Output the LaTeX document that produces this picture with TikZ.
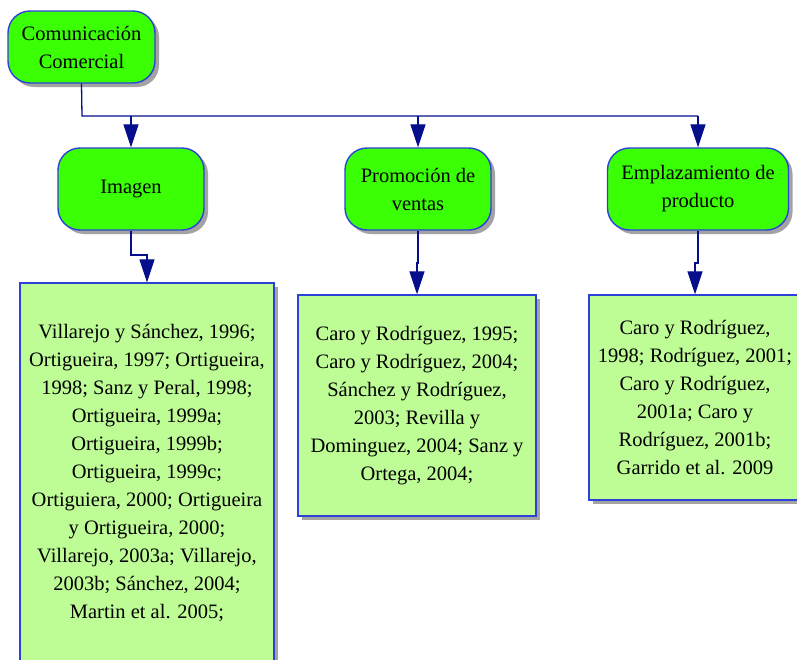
\documentclass[tikz,border=0pt]{standalone}
\usepackage{fontspec}
\setmainfont{Liberation Serif}
\usetikzlibrary{arrows.meta,shadows}
\definecolor{nodegreen}{RGB}{58,255,5}
\definecolor{boxgreen}{RGB}{190,252,150}
\definecolor{edgeblue}{RGB}{45,65,215}
\definecolor{navy}{RGB}{5,15,140}
\tikzset{
  base/.style={draw=edgeblue,line width=1.4pt,align=center,inner sep=0pt,
    font=\fontsize{20.5}{28}\selectfont,
    drop shadow={shadow xshift=4pt,shadow yshift=-4pt,fill=gray!85,opacity=0.85}},
  topic/.style={base,fill=nodegreen,rounded corners=22pt},
  refbox/.style={base,fill=boxgreen},
  conn/.style={draw=navy,line width=1.3pt},
  arr/.style={conn,-{Triangle[length=23pt,width=15pt]}}
}
\begin{document}
\begin{tikzpicture}[x=1pt,y=-1pt]
\useasboundingbox (0,0) rectangle (797,659);
\clip (0,0) rectangle (797,659);
\fill[white] (0,0) rectangle (797,659);
% nodes
\node[topic,minimum width=147pt,minimum height=72pt] (top) at (81.5,47) {Comunicación\\Comercial};
\node[topic,minimum width=146pt,minimum height=82pt] (imagen) at (131,189) {\raisebox{-3pt}{Imagen}};
\node[topic,minimum width=146pt,minimum height=82pt] (promo) at (418,189) {Promoción de\\ventas};
\node[topic,minimum width=181pt,minimum height=82pt] (empl) at (698,189) {Emplazamiento de\\producto};
\node[refbox,minimum width=254pt,minimum height=379pt] (b1) at (147,472.5)
  {Villarejo y Sánchez, 1996;\\Ortigueira, 1997; Ortigueira,\\1998; Sanz y Peral, 1998;\\Ortigueira, 1999a;\\Ortigueira, 1999b;\\Ortigueira, 1999c;\\Ortiguiera, 2000; Ortigueira\\y Ortigueira, 2000;\\Villarejo, 2003a; Villarejo,\\2003b; Sánchez, 2004;\\Martin et al. 2005;};
\node[refbox,minimum width=238pt,minimum height=221pt] (b2) at (417,405.5)
  {Caro y Rodríguez, 1995;\\Caro y Rodríguez, 2004;\\Sánchez y Rodríguez,\\2003; Revilla y\\Dominguez, 2004; Sanz y\\Ortega, 2004;};
\node[refbox,minimum width=212pt,minimum height=205pt] (b3) at (695,397.5)
  {Caro y Rodríguez,\\1998; Rodríguez, 2001;\\Caro y Rodríguez,\\2001a; Caro y\\Rodríguez, 2001b;\\Garrido et al. 2009};
% connectors
\coordinate (bus) at (82,116);
\draw[conn] (top.south) -- (bus) -- (empl.north |- bus);
\draw[arr] (imagen.north |- bus) -- (imagen.north);
\draw[arr] (promo.north |- bus) -- (promo.north);
\draw[arr] (empl.north |- bus) -- (empl.north);
\coordinate (j1) at (0,255);
\coordinate (j2) at (0,263);
\draw[arr] (imagen.south) -- (imagen.south |- j1) -| (b1.north);
\draw[arr] (promo.south) -- (promo.south |- j2) -| (b2.north);
\draw[arr] (empl.south) -- (empl.south |- j2) -| (b3.north);
\end{tikzpicture}
\end{document}
